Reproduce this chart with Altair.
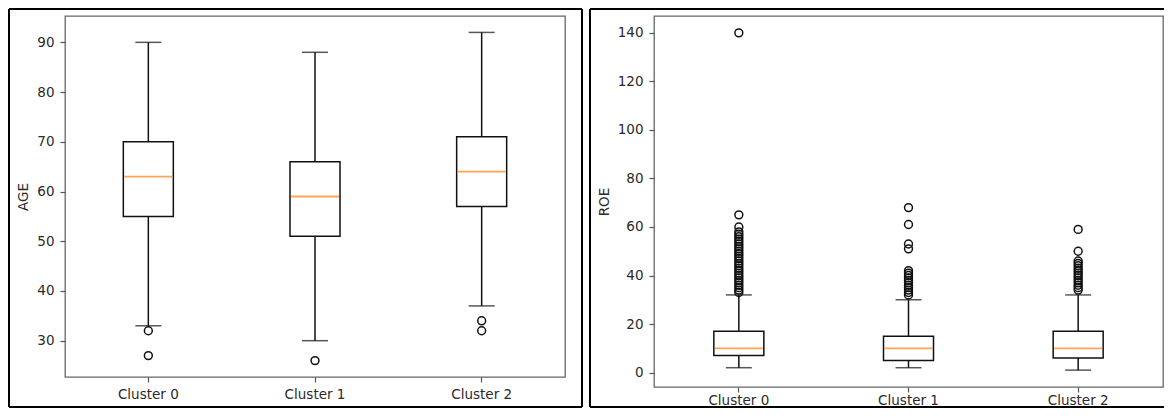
import altair as alt
import pandas as pd

clusters = ["Cluster 0", "Cluster 1", "Cluster 2"]

# AGE box statistics per cluster
age_whislo = [33, 30, 37]
age_q1 = [55, 51, 57]
age_med = [63, 59, 64]
age_q3 = [70, 66, 71]
age_whishi = [90, 88, 92]
age_fliers = [[32, 27], [26], [34, 32]]

# ROE box statistics per cluster
roe_whislo = [2, 2, 1]
roe_q1 = [7, 5, 6]
roe_med = [10, 10, 10]
roe_q3 = [17, 15, 17]
roe_whishi = [32, 30, 32]
roe_fliers = [
    [33, 34, 35, 36, 37, 38, 39, 40, 41, 42, 43, 44, 45, 46, 47, 48, 49, 50,
     51, 52, 53, 54, 55, 56, 57, 58, 60, 65, 140],
    [32, 33, 34, 35, 36, 37, 38, 39, 40, 41, 42, 51, 53, 61, 68],
    [34, 35, 36, 37, 38, 39, 40, 41, 42, 43, 44, 45, 46, 50, 59],
]

age_ticks = [30, 40, 50, 60, 70, 80, 90]
roe_ticks = [0, 20, 40, 60, 80, 100, 120, 140]

FONT = "DejaVu Sans"
TXT = "#2a2a2a"


def panel(title, lo, q1, med, q3, hi, fliers, ticks, domain, w, h, frame, xpad, right_open=False):
    stats = pd.DataFrame({"cluster": clusters, "lo": lo, "q1": q1, "med": med, "q3": q3, "hi": hi})
    fl = pd.DataFrame([{"cluster": c, "v": v} for c, vs in zip(clusters, fliers) for v in vs])

    xenc = alt.X("cluster:N", sort=clusters,
                 scale=alt.Scale(paddingInner=0, paddingOuter=0),
                 axis=alt.Axis(title=None, labelAngle=0, bandPosition=0.5, labelPadding=xpad))

    def yenc(f):
        return alt.Y(f, type="quantitative", title=title,
                     scale=alt.Scale(domain=domain, nice=False, zero=False),
                     axis=alt.Axis(values=ticks, title=title, labelPadding=6, titlePadding=6))

    bw = 50
    cw = 26
    lc = "#111111"
    base = alt.Chart(stats)
    lw = base.mark_rule(color=lc, strokeWidth=1.5).encode(x=xenc, y=yenc("lo"), y2="q1")
    uw = base.mark_rule(color=lc, strokeWidth=1.5).encode(x=xenc, y=yenc("q3"), y2="hi")
    box = base.mark_bar(size=bw, fill="white", stroke=lc, strokeWidth=1.5).encode(
        x=xenc, y=yenc("q1"), y2="q3")
    medt = base.mark_tick(size=bw - 2, thickness=1.8, color="#ff7f0e").encode(x=xenc, y=yenc("med"))
    capl = base.mark_tick(size=cw, thickness=1.5, color=lc).encode(x=xenc, y=yenc("lo"))
    caph = base.mark_tick(size=cw, thickness=1.5, color=lc).encode(x=xenc, y=yenc("hi"))
    pts = alt.Chart(fl).mark_point(shape="circle", size=62, filled=False, color=lc,
                                   strokeWidth=1.5, opacity=1).encode(x=xenc, y=yenc("v"))

    fx0, fx1, fy0, fy1 = frame
    one = alt.Chart(alt.Data(values=[{"a": 1}]))
    fr = dict(color="black", strokeWidth=2)
    frames = [
        one.mark_rule(**fr).encode(x=alt.value(fx0), x2=alt.value(fx1), y=alt.value(fy0)),
        one.mark_rule(**fr).encode(x=alt.value(fx0), x2=alt.value(fx1), y=alt.value(fy1)),
        one.mark_rule(**fr).encode(x=alt.value(fx0), y=alt.value(fy0), y2=alt.value(fy1)),
    ]
    if not right_open:
        frames.append(one.mark_rule(**fr).encode(x=alt.value(fx1), y=alt.value(fy0), y2=alt.value(fy1)))

    return alt.layer(lw, uw, box, medt, capl, caph, pts, *frames).properties(width=w, height=h)


left = panel("AGE", age_whislo, age_q1, age_med, age_q3, age_whishi, age_fliers,
             age_ticks, [22.7, 95.3], 500, 361, (-56, 517, -7, 391), 5)
right = panel("ROE", roe_whislo, roe_q1, roe_med, roe_q3, roe_whishi, roe_fliers,
              roe_ticks, [-5.95, 146.95], 509, 371, (-64, 511, -7, 391), 1, right_open=True)

chart = alt.hconcat(left, right, spacing=4).properties(
    padding={"left": -1, "top": -1, "right": -3, "bottom": -1}
).configure_view(
    stroke="#666666", strokeWidth=1.3
).configure_axis(
    domain=False, grid=False,
    labelFont=FONT, labelFontSize=13.5, labelColor=TXT,
    tickColor="#555555", tickSize=5, tickWidth=1.2,
    titleFont=FONT, titleFontSize=13.5, titleFontWeight="normal", titleColor=TXT,
)

chart.save("out.html", embed_options={"renderer": "svg", "actions": False})
